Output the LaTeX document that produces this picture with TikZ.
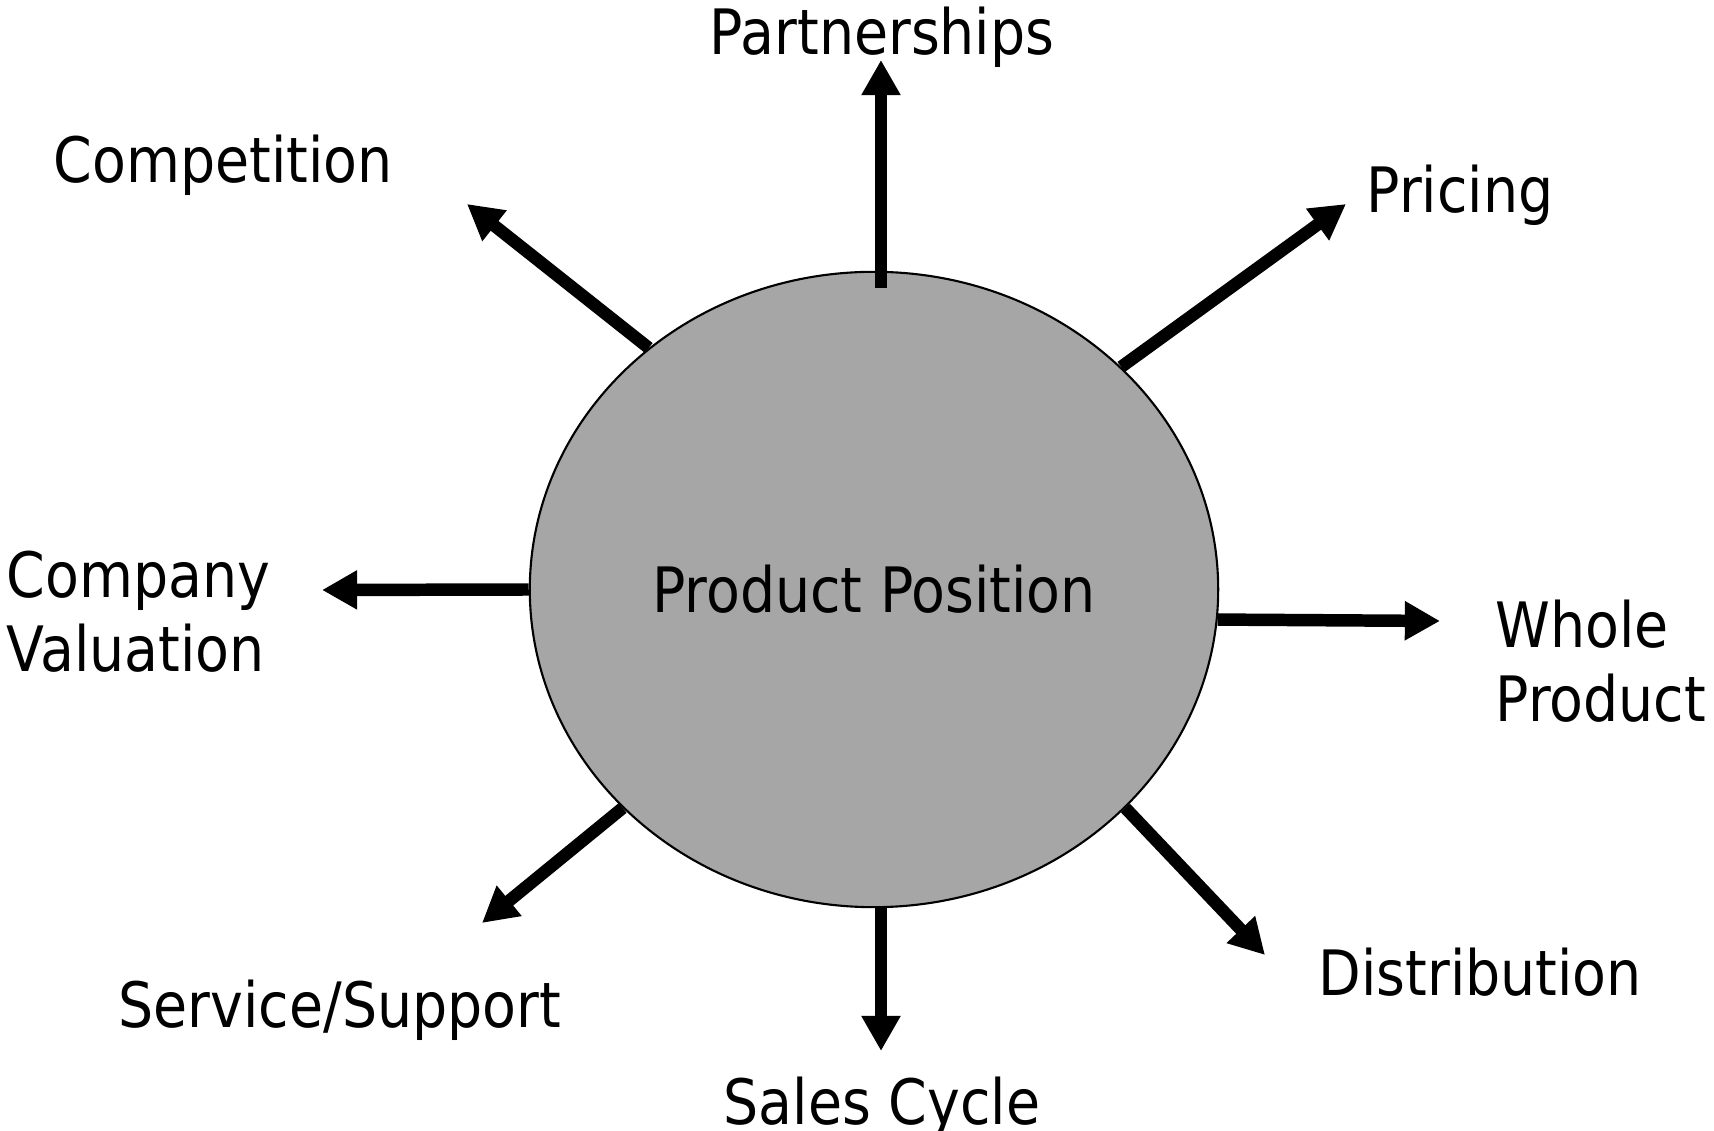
\documentclass[tikz,border=0pt]{standalone}
\usepackage{fontspec}
\setmainfont{DejaVu Sans}[FakeStretch=0.885]
\usetikzlibrary{arrows.meta,shapes.geometric}
\definecolor{posgray}{RGB}{166,166,166}

\begin{document}
\begin{tikzpicture}[x=0.01cm,y=-0.01cm,
    lbl/.style={font=\fontsize{17.8}{21.3}\selectfont,inner sep=0pt,align=left},
    spoke/.style={line width=3.55pt,-{Triangle[length=10pt,width=10.5pt]}}]
  \useasboundingbox (0,0) rectangle (1714,1131);
  \node[ellipse,draw,line width=0.6pt,fill=posgray,inner sep=0pt,
        minimum width=6.88cm,minimum height=6.35cm,
        font=\fontsize{17.8}{21.3}\selectfont] (pos) at (874,589.5) {Product Position};
  \node[lbl,anchor=base] (partners) at (882,55) {Partnerships};
  \node[lbl,anchor=base west] (pricing) at (1366,213) {Pricing};
  \node[lbl,anchor=base west] (whole) at (1495,722) {Whole\\Product};
  \node[lbl,anchor=base west] (distrib) at (1318,996) {Distribution};
  \node[lbl,anchor=base] (sales) at (882,1125) {Sales Cycle};
  \node[lbl,anchor=base west] (service) at (118,1028) {Service/Support};
  \node[lbl,anchor=base west] (company) at (6,672) {Company\\Valuation};
  \node[lbl,anchor=base west] (compet) at (53,183) {Competition};
  \coordinate (partnerstip) at (881,60);
  \coordinate (pricingtip) at (1346,204);
  \coordinate (wholetip) at (1440,621);
  \coordinate (distribtip) at (1265,955);
  \coordinate (salestip) at (881,1051);
  \coordinate (servicetip) at (482,923);
  \coordinate (companytip) at (322,590);
  \coordinate (competitip) at (467,204);
  \draw[spoke] ([yshift=-5pt]pos.north -| partnerstip) -- (partnerstip);
  \draw[spoke] (pos.42.3) -- (pricingtip);
  \draw[spoke] (pos.-5.2) -- (wholetip);
  \draw[spoke] (pos.-41.8) -- (distribtip);
  \draw[spoke] (pos.south -| salestip) -- (salestip);
  \draw[spoke] (pos.221.5) -- (servicetip);
  \draw[spoke] (pos.west) -- (companytip);
  \draw[spoke] (pos.133.7) -- (competitip);
\end{tikzpicture}
\end{document}
